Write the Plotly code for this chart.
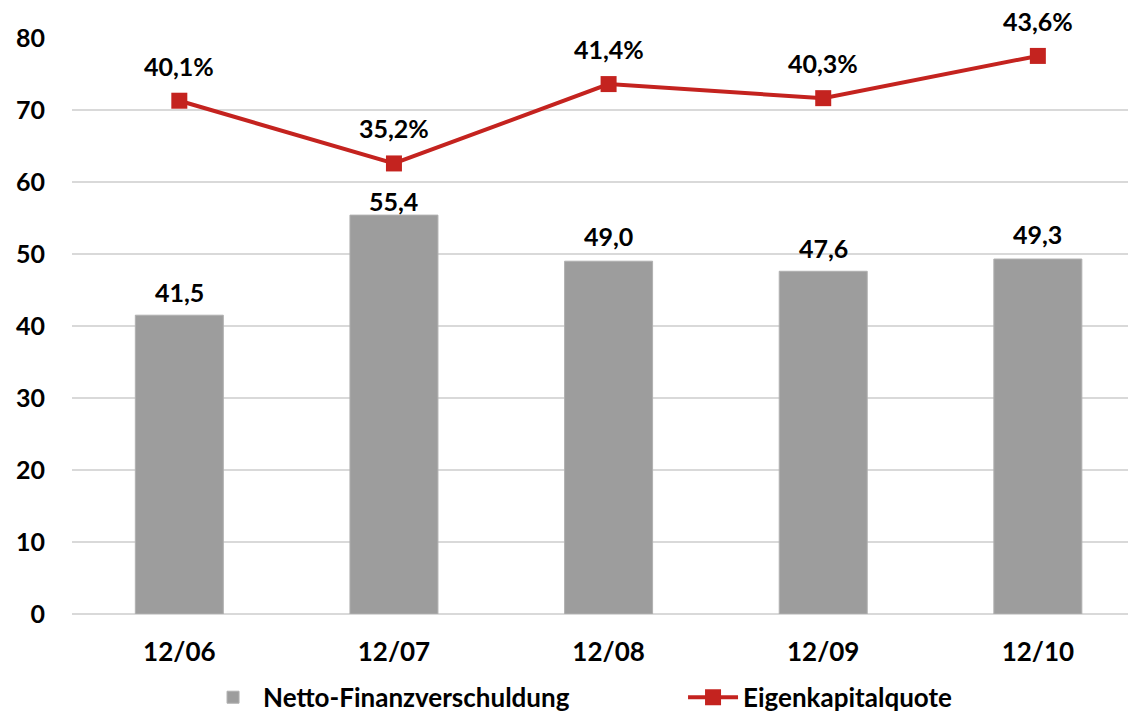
import plotly.graph_objects as go

categories = ["12/06", "12/07", "12/08", "12/09", "12/10"]
netto = [41.5, 55.4, 49.0, 47.6, 49.3]
eigen = [40.1, 35.2, 41.4, 40.3, 43.6]
y_ticks = [0, 10, 20, 30, 40, 50, 60, 70, 80]

FONT = "Lato"
GRAY = "#9d9d9d"
RED = "#c4231f"
FS = 25

def de(v, pct=False):
    s = f"{v:.1f}".replace(".", ",")
    return s + ("%" if pct else "")

fig = go.Figure()
fig.add_trace(go.Bar(
    x=categories, y=netto, name="Netto-Finanzverschuldung",
    marker=dict(color=GRAY, line=dict(color="#b0b0b0", width=1)),
    width=0.41, yaxis="y",
))
fig.add_trace(go.Scatter(
    x=categories, y=eigen, name="Eigenkapitalquote", yaxis="y2",
    mode="lines+markers",
    line=dict(color=RED, width=4),
    marker=dict(symbol="square", size=16, color=RED),
))

bar_shift = [23, 14, 25, 23, 25]
for c, v, s in zip(categories, netto, bar_shift):
    fig.add_annotation(x=c, y=v, xref="x", yref="y", text=de(v), showarrow=False,
                       yanchor="middle", yshift=s,
                       font=dict(family=FONT, size=FS, color="#000000", weight="bold"))
for c, v in zip(categories, eigen):
    fig.add_annotation(x=c, y=v, xref="x", yref="y2", text=de(v, True), showarrow=False,
                       yanchor="middle", yshift=35,
                       font=dict(family=FONT, size=FS, color="#000000", weight="bold"))

fig.update_layout(
    width=1128, height=713,
    margin=dict(l=72, r=0, t=38, b=99),
    paper_bgcolor="white", plot_bgcolor="white",
    font=dict(family=FONT, size=FS, color="#000000", weight="bold"),
    xaxis=dict(range=[-0.5, 4.42], showgrid=False, showline=False, zeroline=False,
               ticks="", ticklabelstandoff=20,
               tickfont=dict(family=FONT, size=26, weight="bold")),
    yaxis=dict(range=[0, 80], tickvals=y_ticks, showgrid=True, gridcolor="#d9d9d9",
               gridwidth=2, zeroline=True, zerolinecolor="#d9d9d9", zerolinewidth=2,
               showline=False, ticks="", ticklabelstandoff=26,
               tickfont=dict(family=FONT, size=FS, weight="bold")),
    yaxis2=dict(range=[0, 45], overlaying="y", side="right", visible=False),
    showlegend=True,
    legend=dict(orientation="h", xref="container", x=0.18, xanchor="left",
                yref="container", y=0.022, yanchor="middle",
                font=dict(family=FONT, size=26, weight="bold"), itemwidth=50,
                entrywidth=415, traceorder="normal"),
)

fig.write_html("out.html")
